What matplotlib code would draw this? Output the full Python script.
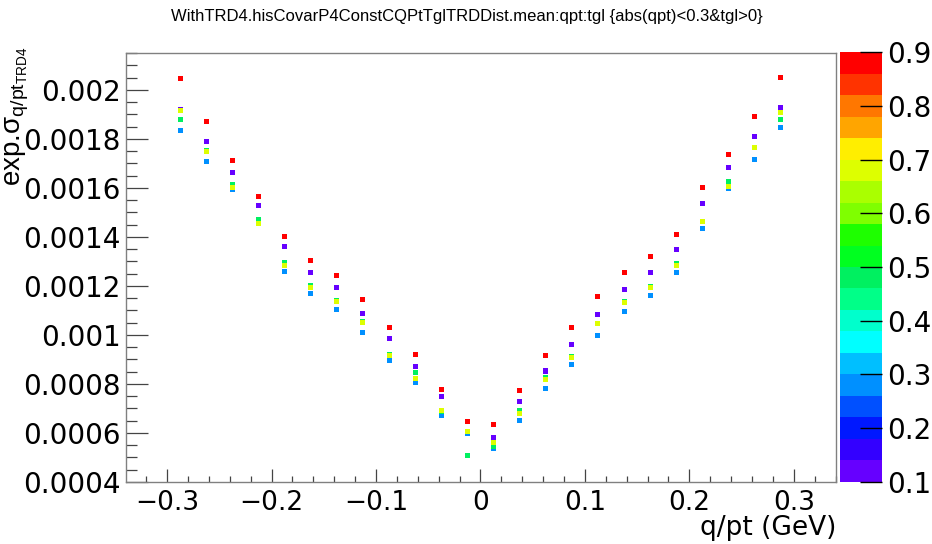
import numpy as np
import matplotlib.pyplot as plt
from matplotlib.colors import ListedColormap, BoundaryNorm
from matplotlib.cm import ScalarMappable
from matplotlib.ticker import MultipleLocator, FuncFormatter

plt.rcParams['font.family'] = ['Liberation Sans', 'DejaVu Sans']
plt.rcParams['mathtext.fontset'] = 'custom'
plt.rcParams['mathtext.rm'] = 'Liberation Sans'
plt.rcParams['mathtext.it'] = 'Liberation Sans:italic'
plt.rcParams['mathtext.bf'] = 'Liberation Sans:bold'

# bin centres in q/pt
qpt = [-0.2875, -0.2625, -0.2375, -0.2125, -0.1875, -0.1625, -0.1375, -0.1125,
       -0.0875, -0.0625, -0.0375, -0.0125, 0.0125, 0.0375, 0.0625, 0.0875,
       0.1125, 0.1375, 0.1625, 0.1875, 0.2125, 0.2375, 0.2625, 0.2875]

# tgl value of each series
tgl = [0.12, 0.28, 0.48, 0.68, 0.88]

mean_tgl_a = [0.001922, 0.001789, 0.001664, 0.001527, 0.001363, 0.001256, 0.001195, 0.001087,
              0.000985, 0.000873, 0.000747, 0.000604, 0.000582, 0.000729, 0.000853, 0.000962,
              0.001082, 0.001184, 0.001256, 0.001347, 0.001538, 0.001684, 0.001812, 0.001929]
mean_tgl_b = [0.001833, 0.001710, 0.001595, 0.001453, 0.001261, 0.001169, 0.001105, 0.001011,
              0.000895, 0.000807, 0.000673, 0.000599, 0.000535, 0.000653, 0.000781, 0.000880,
              0.000997, 0.001097, 0.001163, 0.001254, 0.001436, 0.001596, 0.001717, 0.001845]
mean_tgl_c = [0.001879, 0.001753, 0.001615, 0.001471, 0.001295, 0.001200, 0.001142, 0.001057,
              0.000922, 0.000845, 0.000686, 0.000510, 0.000546, 0.000693, 0.000827, 0.000914,
              0.001047, 0.001135, 0.001196, 0.001293, 0.001465, 0.001627, 0.001765, 0.001880]
mean_tgl_d = [0.001917, 0.001747, 0.001600, 0.001454, 0.001284, 0.001195, 0.001135, 0.001052,
              0.000916, 0.000824, 0.000693, 0.000608, 0.000562, 0.000678, 0.000819, 0.000910,
              0.001046, 0.001131, 0.001193, 0.001284, 0.001463, 0.001606, 0.001767, 0.001909]
mean_tgl_e = [0.002045, 0.001873, 0.001713, 0.001567, 0.001401, 0.001305, 0.001242, 0.001146,
              0.001029, 0.000921, 0.000776, 0.000647, 0.000636, 0.000773, 0.000918, 0.001029,
              0.001158, 0.001254, 0.001321, 0.001411, 0.001603, 0.001738, 0.001891, 0.002052]
means = [mean_tgl_a, mean_tgl_b, mean_tgl_c, mean_tgl_d, mean_tgl_e]

# ROOT-like rainbow palette, 20 levels
palette = ['#6600ff', '#3300ff', '#0018ff', '#0050ff', '#0090ff', '#00bfff', '#00ffff',
           '#00ffcc', '#00ff88', '#00f060', '#00ff20', '#1eff00', '#7fff00', '#aaff00',
           '#ddff00', '#ffee00', '#ffa500', '#ff7700', '#ff3300', '#ff0000']
cmap = ListedColormap(palette)
norm = BoundaryNorm(np.linspace(0.1, 0.9, 21), cmap.N)

W, H = 932, 544
fig = plt.figure(figsize=(W / 100, H / 100), dpi=100)
ax = fig.add_axes([126 / W, 1 - 482 / H, (836 - 126) / W, (482 - 52.7) / H])

for t, m in zip(tgl, means):
    ax.scatter(qpt, m, c=[t] * len(qpt), cmap=cmap, norm=norm,
               marker='s', s=13, linewidths=0, zorder=3)

ax.set_xlim(-0.3394, 0.3404)
ax.set_ylim(0.0004, 0.002152)
ax.xaxis.set_major_locator(MultipleLocator(0.1))
ax.xaxis.set_minor_locator(MultipleLocator(0.02))
ax.yaxis.set_major_locator(MultipleLocator(0.0002))
ax.yaxis.set_minor_locator(MultipleLocator(0.00005))
fmt = FuncFormatter(lambda v, p: ('%g' % round(v, 6)).replace('-', '\u2212'))
ax.xaxis.set_major_formatter(fmt)
ax.yaxis.set_major_formatter(fmt)

for s in ax.spines.values():
    s.set_color('#808080')
    s.set_linewidth(1)
ax.tick_params(which='both', direction='in', color='#444444', width=0.9,
               top=False, right=False)
ax.tick_params(axis='y', which='major', length=15.5, pad=4)
ax.tick_params(axis='y', which='minor', length=7.8)
ax.tick_params(axis='x', which='major', length=9.3, pad=6)
ax.tick_params(axis='x', which='minor', length=4.6)
for lab in ax.get_yticklabels():
    lab.set_family('DejaVu Sans')
    lab.set_fontsize(20)
for lab in ax.get_xticklabels():
    lab.set_family('DejaVu Sans')
    lab.set_fontsize(19)

ax.set_xlabel('q/pt (GeV)', fontsize=19, family='DejaVu Sans', loc='right', labelpad=-1)
fig.text(17 / W, 1 - 47 / H, r'exp.$\mathrm{\sigma}_{\mathrm{q/pt}_{\mathrm{TRD4}}}$',
         rotation=90, ha='center', va='top', fontsize=20)
fig.text(467 / W, 1 - 16 / H,
         'WithTRD4.hisCovarP4ConstCQPtTglTRDDist.mean:qpt:tgl {abs(qpt)<0.3&tgl>0}',
         ha='center', va='center', fontsize=12)

cax = fig.add_axes([840.3 / W, 1 - 481.7 / H, (881.7 - 840.3) / W, (481.7 - 52.3) / H])
cb = fig.colorbar(ScalarMappable(norm=norm, cmap=cmap), cax=cax,
                  ticks=[0.1, 0.2, 0.3, 0.4, 0.5, 0.6, 0.7, 0.8, 0.9])
cb.outline.set_visible(False)
cb.ax.yaxis.set_major_formatter(FuncFormatter(lambda v, p: '%.1f' % v))
cb.ax.minorticks_off()
cb.ax.tick_params(direction='in', length=15.5, width=1, color='black', pad=4)
for lab in cb.ax.get_yticklabels():
    lab.set_family('DejaVu Sans')
    lab.set_fontsize(20)

fig.savefig('out.png', dpi=100)
